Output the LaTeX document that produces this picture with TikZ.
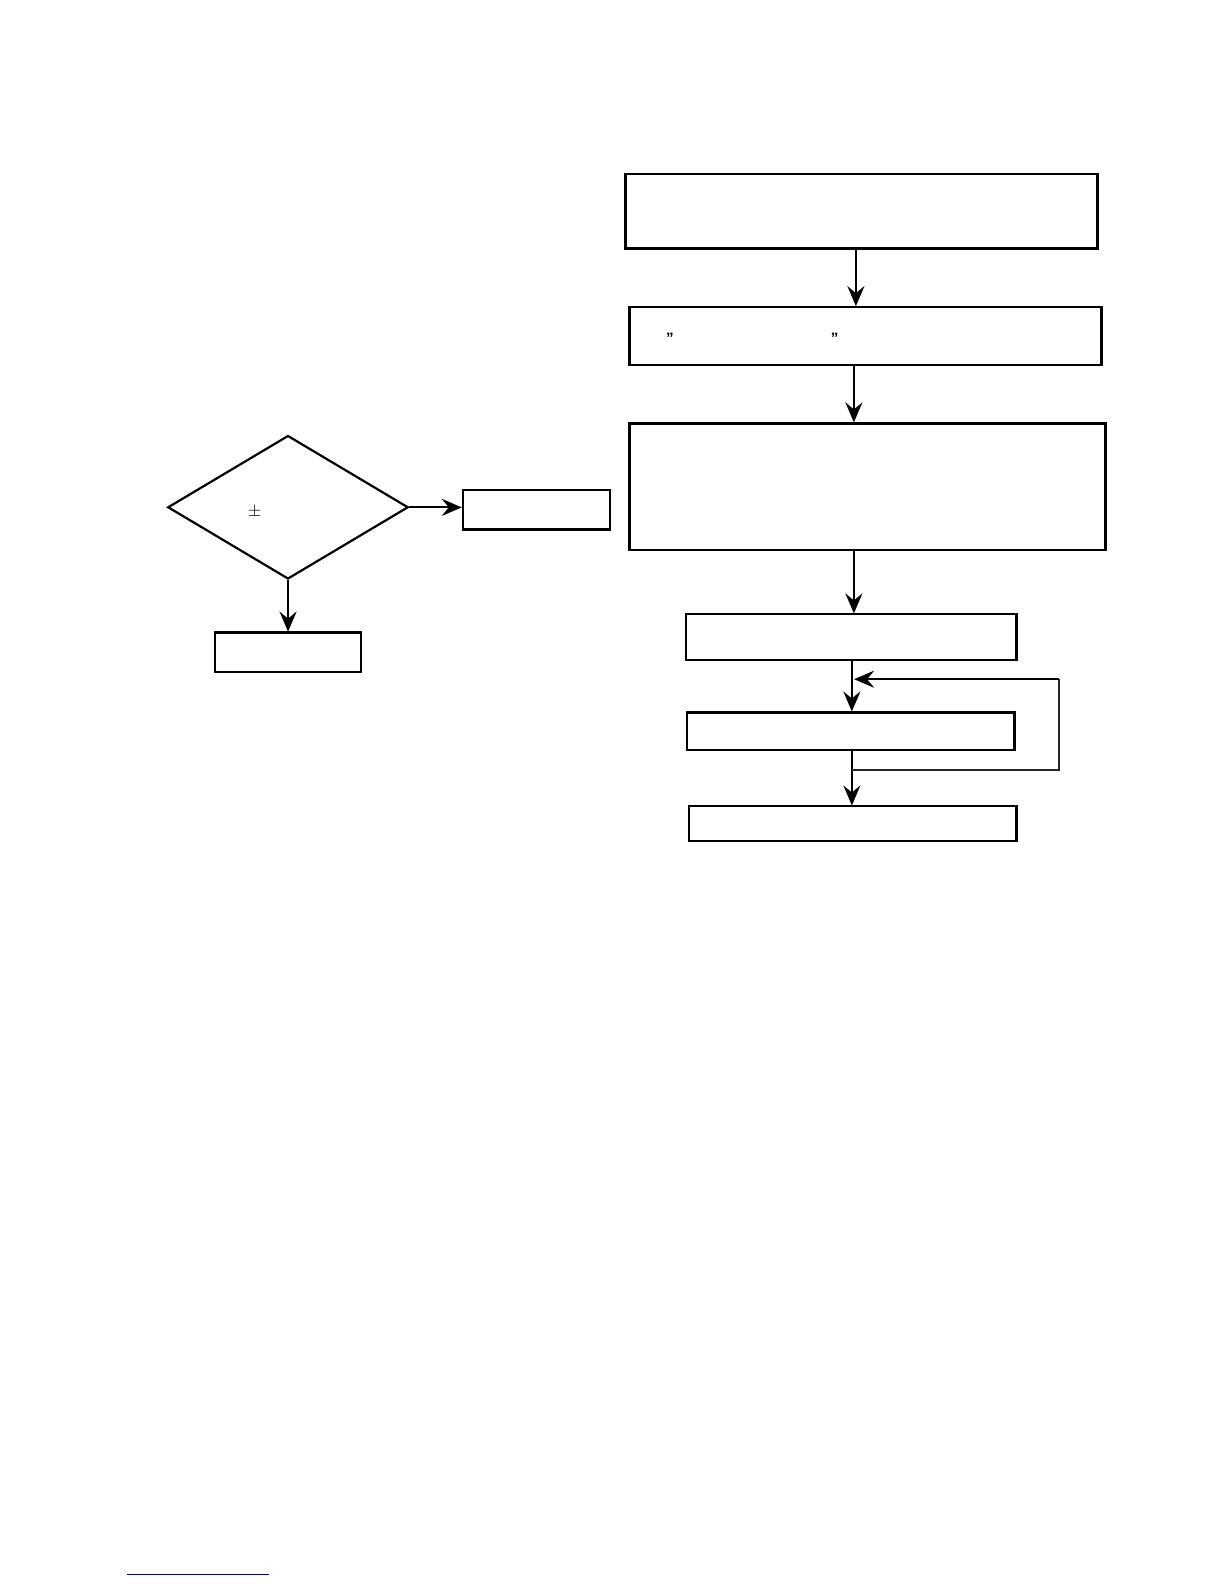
\documentclass[tikz,border=0pt]{standalone}
\usepackage{fontspec}
\setmainfont{Liberation Sans}
\usetikzlibrary{arrows.meta,shapes.geometric}
\begin{document}
\begin{tikzpicture}[x=1bp,y=-1bp,
  box/.style={draw,line width=2.2bp,minimum width=#1,inner sep=0pt},
  arr/.style={line width=2.2bp,-{Stealth[length=20bp,width=17bp,inset=7bp]}},
  ln/.style={line width=2bp}]
\useasboundingbox (0,0) rectangle (1224,1584);
\begin{scope}[scale=1.0105,transform shape]
\node[box=467bp,minimum height=74bp] (b1) at (852.5,209) {};
\node[box=467bp,minimum height=57bp] (b2) at (856.5,332.5) {};
\node[box=471bp,minimum height=125bp] (b3) at (858.5,481.5) {};
\node[box=327bp,minimum height=45bp] (b4) at (842.5,630.5) {};
\node[box=324bp,minimum height=37bp] (b5) at (842,723.5) {};
\node[box=324bp,minimum height=34bp] (b6) at (844,815) {};
\node[draw,line width=2.2bp,diamond,minimum width=238bp,minimum height=142bp,inner sep=0pt,shape aspect=1.676] (d) at (285,502) {};
\node[box=146bp,minimum height=39bp] (br) at (531,504.5) {};
\node[box=145bp,minimum height=39bp] (bl) at (285,645.5) {};
\node[font=\fontsize{15}{15}\selectfont\bfseries] (q1) at (663,335) {”};
\node[font=\fontsize{15}{15}\selectfont\bfseries] (q2) at (826,335) {”};
\node[font=\fontsize{19}{19}\selectfont] (pm) at (252,507) {$\pm$};
\draw[arr] (847,0 |- b1.south) -- (847,0 |- b2.north);
\draw[arr] (845,0 |- b2.south) -- (845,0 |- b3.north);
\draw[arr] (845,0 |- b3.south) -- (845,0 |- b4.north);
\draw[arr] (843,0 |- b4.south) -- (843,0 |- b5.north);
\draw[arr] (843,0 |- b5.south) -- (843,0 |- b6.north);
\coordinate (lp1) at (843,762);
\coordinate (lp2) at (1048,762);
\coordinate (lp3) at (1048,672);
\coordinate (lp4) at (845,672);
\draw[line width=2bp,color=black!85] (lp1) -- (lp2) -- (lp3);
\draw[arr] (lp3) -- (lp4);
\draw[arr] (d.east) -- (d.east -| br.west);
\draw[arr] (d.south) -- (bl.north);
\coordinate (u1) at (126,1558);
\coordinate (u2) at (266,1558);
\draw[line width=1.3bp,color={rgb,255:red,0;green,0;blue,140}] (u1) -- (u2);
\end{scope}
\end{tikzpicture}
\end{document}
